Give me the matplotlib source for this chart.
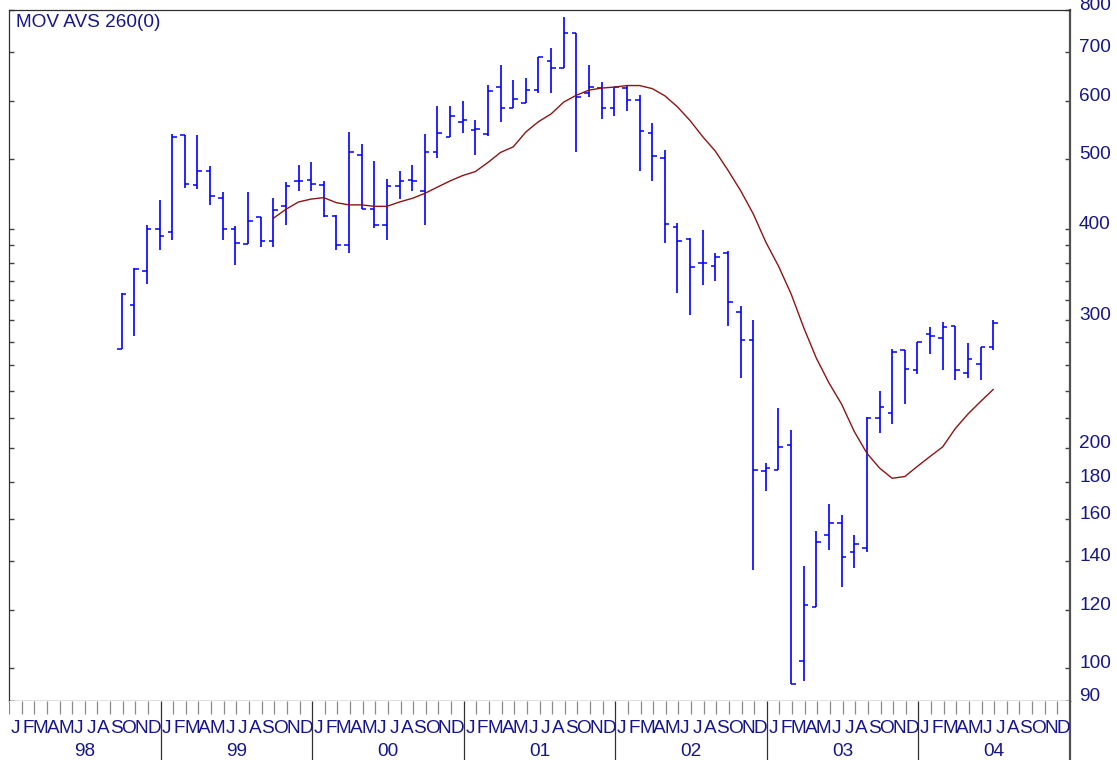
import matplotlib
matplotlib.use("Agg")
import matplotlib.pyplot as plt
import numpy as np
import pandas as pd
from matplotlib.ticker import NullLocator

plt.rcParams['font.family'] = ['Liberation Sans', 'DejaVu Sans']

# monthly bars, Sep 1998 .. Jun 2004 (dated at month end)
bar_months = pd.period_range('1998-09', '2004-06', freq='M')
bar_open = [274, 315, 351, 400, 396, 538, 460, 481, 441, 400, 382, 416, 385, 431, 466, 467, 460, 417,
            380, 506, 426, 405, 459, 467, 451, 511, 536, 561, 547, 540, 627, 586, 596, 621, 681, 665,
            743, 615, 625, 586, 626, 601, 543, 501, 403, 388, 359, 356, 371, 308, 282, 186, 187, 202,
            102, 121, 152, 158, 144, 146, 220, 224, 273, 256, 287, 284, 295, 254, 261, 276]
bar_high = [327, 354, 406, 439, 541, 538, 538, 489, 450, 404, 450, 416, 441, 465, 490, 495, 466, 419,
            544, 524, 496, 469, 481, 490, 541, 591, 591, 600, 565, 631, 672, 641, 645, 690, 710, 782,
            743, 672, 638, 628, 631, 611, 560, 514, 408, 389, 399, 371, 373, 314, 300, 191, 227, 212,
            138, 154, 168, 162, 152, 221, 240, 274, 273, 280, 294, 298, 295, 279, 276, 300]
bar_low = [274, 285, 336, 375, 387, 456, 454, 432, 386, 357, 382, 378, 378, 406, 451, 451, 416, 375,
           371, 426, 401, 387, 440, 452, 406, 501, 536, 542, 506, 537, 562, 586, 596, 616, 616, 665,
           511, 608, 567, 573, 582, 481, 466, 383, 327, 305, 335, 340, 295, 250, 136, 175, 187, 95,
           96, 121, 145, 129, 137, 144, 210, 216, 230, 253, 270, 256, 248, 250, 248, 273]
bar_close = [326, 353, 400, 392, 535, 462, 481, 444, 400, 383, 411, 385, 425, 459, 466, 461, 417, 380,
             511, 427, 405, 459, 466, 466, 511, 542, 572, 565, 549, 620, 586, 604, 621, 689, 667, 743,
             608, 627, 586, 627, 601, 546, 504, 407, 385, 355, 360, 366, 318, 282, 187, 188, 201, 95,
             122, 149, 158, 142, 148, 220, 228, 271, 257, 280, 285, 294, 256, 265, 276, 297]

# 260 day moving average read at the month ends, from Sep 1999 on
ma_start = 12
ma_260 = [414, 426, 436, 440, 442, 435, 432, 432, 430, 430, 436, 441, 448, 457, 466, 474, 480, 494,
          510, 519, 544, 562, 576, 598, 611, 621, 625, 627, 630, 630, 624, 610, 589, 564, 536, 512,
          482, 452, 420, 384, 356, 326, 293, 266, 246, 230, 211, 197, 188, 182, 183, 189, 195, 201,
          213, 223, 232, 241]

y_ticks = [90, 100, 120, 140, 160, 180, 200, 220, 240, 260, 280, 300, 320, 340, 360, 380, 400,
           500, 600, 700, 800]
y_labels = ['90', '100', '120', '140', '160', '180', '200', '', '', '', '', '300', '', '', '', '', '400',
            '500', '600', '700', '800']
month_letters = 'JFMAMJJASOND'
year_labels = ['98', '99', '00', '01', '02', '03', '04']

navy = '#16168a'
W, H = 1117, 760
x0, x1, ybot, ytop = 9, 1070, 701, 10

# x in months since Jan 1998, bar sits at the end of its month
x = np.array([(p.year - 1998) * 12 + p.month for p in bar_months], dtype=float) - 0.08
tw = 0.36

fig = plt.figure(figsize=(W / 100, H / 100), dpi=100)
ax = fig.add_axes([x0 / W, (H - ybot) / H, (x1 - x0) / W, (ybot - ytop) / H])
ax.set_yscale('log')
ax.set_xlim(0, 84)
ax.set_ylim(90, 800)

ax.vlines(x, bar_low, bar_high, color='#0000ff', lw=1.2)
ax.hlines(bar_open, x - tw, x, color='#0000ff', lw=1.1)
ax.hlines(bar_close, x, x + tw, color='#0000ff', lw=1.1)
ax.plot(x[ma_start:], ma_260, color='#8c1414', lw=1.0)

ax.set_xticks([])
ax.yaxis.tick_right()
ax.set_yticks(y_ticks)
ax.set_yticklabels(y_labels)
ax.yaxis.set_minor_locator(NullLocator())
ax.tick_params(axis='y', direction='in', length=3.3, width=1.0, color='#404040',
               labelsize=13.7, labelcolor=navy, pad=6.5, left=True)
for t in ax.get_yticklabels():
    t.set_verticalalignment('baseline')
for s in ['top', 'left']:
    ax.spines[s].set_color('#303030')
    ax.spines[s].set_linewidth(0.9)
ax.spines['bottom'].set_color('black')
ax.spines['bottom'].set_linewidth(0.9)
ax.spines['right'].set_color('#505050')
ax.spines['right'].set_linewidth(1.6)

# month / year band under the chart
band = fig.add_axes([x0 / W, 0, (x1 - x0) / W, (H - ybot) / H])
band.set_xlim(0, 84)
band.set_ylim(0, H - ybot)
band.set_xticks([])
band.set_yticks([])
for s in ['top', 'left', 'bottom']:
    band.spines[s].set_visible(False)
band.spines['right'].set_color('#505050')
band.spines['right'].set_linewidth(1.6)
for m in range(84):
    if m % 12 == 0 and m > 0:
        band.vlines(m, 0, H - ybot, color='#303030', lw=0.9)
    else:
        band.vlines(m, H - ybot - 13, H - ybot, color='#8a8a8a', lw=0.9)
    band.text(m + 0.5, 27, month_letters[m % 12], ha='center', va='baseline',
              fontsize=13.7, color=navy, clip_on=False)
for i, yl in enumerate(year_labels):
    band.text(i * 12 + 6, 4, yl, ha='center', va='baseline', fontsize=13.7, color=navy)

fig.text(16 / W, (H - 26.7) / H, 'MOV AVS 260(0)', fontsize=13.7, color=navy, va='baseline')

fig.savefig('out.png', dpi=100)
